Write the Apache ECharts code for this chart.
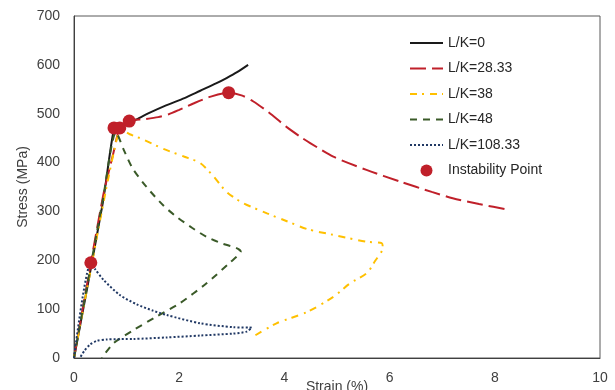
<!DOCTYPE html>
<html>
<head>
<meta charset="utf-8">
<script src="https://cdn.jsdelivr.net/npm/echarts@6/dist/echarts.min.js"></script>
<style>
html,body{margin:0;padding:0;background:#fff;}
#chart{width:615px;height:390px;}
</style>
</head>
<body>
<div id="chart"></div>
<script>
// Data (Strain %, Stress MPa)
var xTicks = [0, 2, 4, 6, 8, 10];
var yTicks = [0, 100, 200, 300, 400, 500, 600, 700];
var seriesNames = ['L/K=0', 'L/K=28.33', 'L/K=38', 'L/K=48', 'L/K=108.33', 'Instability Point'];

var lk0 = [[0,0],[0.54,313],[0.74,458],[0.8,468],[0.9,475],[1.05,482],[1.16,487],[1.4,500],[1.75,517],[2.1,532],[2.4,547],[2.7,562],[2.9,573],[3.1,585],[3.31,600]];
var lk28 = [[0,0],[0.55,330],[0.75,420],[0.87,471],[1.03,485],[1.35,489],[1.6,493],[1.8,499],[2.0,508],[2.27,521],[2.6,535],[2.94,543],[3.2,537],[3.41,525],[3.7,503],[4.04,473],[4.3,453],[4.49,440],[4.93,412],[5.56,385],[6.2,361],[6.8,340],[7.2,327],[7.7,315],[8.29,303]];
var lk38 = [[0,0],[0.6,340],[0.84,460],[0.9,467],[1.06,458],[1.3,448],[1.7,428],[2.1,412],[2.4,399],[2.65,372],[2.9,340],[3.2,318],[3.67,296],[4.0,282],[4.43,264],[4.93,252],[5.56,238],[5.85,235],[5.87,225],[5.72,198],[5.57,174],[5.25,153],[4.93,125],[4.43,94],[3.85,71],[3.41,44]];
var lk48 = [[0,0],[0.55,325],[0.8,462],[0.95,425],[1.12,387],[1.38,350],[1.7,312],[1.95,289],[2.25,266],[2.52,248],[2.8,235],[3.09,225],[3.17,218],[2.97,196],[2.52,153],[2.01,112],[1.57,85],[1.13,57],[0.75,30],[0.53,0]];
var lk108 = [[0,0],[0.32,195],[0.4,182],[0.56,160],[0.87,129],[1.19,110],[1.5,97],[1.76,88],[2.4,71],[3.03,63],[3.38,62],[3.28,54],[3.03,50],[2.4,46],[1.76,42],[1.13,39],[0.62,38],[0.43,35],[0.3,27],[0.2,15],[0.11,0]];
var instability = [[0.76,471],[0.87,471],[1.05,485],[2.94,543],[0.32,195]];

var chart = echarts.init(document.getElementById('chart'), null, {renderer: 'canvas'});
var font = 'Liberation Sans, Arial, sans-serif';
function lineSeries(name, data, color, type, width) {
  return {
    name: name, type: 'line', data: data, symbol: 'none', smooth: 0.25,
    lineStyle: {color: color, width: width || 2, type: type, cap: 'butt'},
    itemStyle: {color: color}, z: 2
  };
}
var hidden = {color: 'rgba(0,0,0,0)', borderWidth: 0, opacity: 0};
var option = {
  animation: false,
  backgroundColor: '#fff',
  textStyle: {fontFamily: font},
  grid: {left: 74, right: 15, top: 16, bottom: 32, show: true, borderColor: '#595959', borderWidth: 1,
         backgroundColor: 'transparent', containLabel: false, outerBoundsMode: 'none'},
  legend: {
    orient: 'vertical', left: 409, top: 36, padding: 0,
    itemWidth: 33, itemHeight: 12, itemGap: 11.5,
    textStyle: {fontFamily: font, fontSize: 14, color: '#262626'},
    data: [
      {name: seriesNames[0], itemStyle: hidden},
      {name: seriesNames[1], itemStyle: hidden},
      {name: seriesNames[2], itemStyle: hidden},
      {name: seriesNames[3], itemStyle: hidden},
      {name: seriesNames[4], itemStyle: hidden},
      {name: seriesNames[5], itemStyle: {color: '#C0202A', opacity: 1}}
    ]
  },
  xAxis: {
    type: 'value', min: xTicks[0], max: xTicks[xTicks.length-1], interval: 2,
    name: 'Strain (%)', nameLocation: 'middle', nameGap: 22, nameMoveOverlap: false,
    nameTextStyle: {fontFamily: font, fontSize: 14, color: '#404040'},
    axisLine: {show: true, lineStyle: {color: '#404040', width: 1}},
    axisTick: {show: false},
    axisLabel: {fontFamily: font, fontSize: 14, color: '#404040', margin: 13},
    splitLine: {show: false}
  },
  yAxis: {
    type: 'value', min: yTicks[0], max: yTicks[yTicks.length-1], interval: 100,
    name: 'Stress (MPa)', nameLocation: 'middle', nameGap: 44, nameMoveOverlap: false,
    nameTextStyle: {fontFamily: font, fontSize: 14, color: '#404040'},
    axisLine: {show: true, lineStyle: {color: '#404040', width: 1}},
    axisTick: {show: false},
    axisLabel: {fontFamily: font, fontSize: 14, color: '#404040', margin: 14},
    splitLine: {show: false}
  },
  series: [
    lineSeries(seriesNames[0], lk0, '#1a1a1a', 'solid', 2),
    lineSeries(seriesNames[1], lk28, '#C0202A', [16, 6], 2),
    lineSeries(seriesNames[2], lk38, '#FFC000', [7, 5, 2, 6], 2),
    lineSeries(seriesNames[3], lk48, '#3A5A28', [7, 6], 2),
    lineSeries(seriesNames[4], lk108, '#203864', [2, 2], 2),
    {
      name: seriesNames[5], type: 'scatter', data: instability, symbol: 'circle', symbolSize: 13,
      itemStyle: {color: '#C0202A', opacity: 1}, z: 5
    }
  ]
};
chart.setOption(option);
</script>
</body>
</html>
